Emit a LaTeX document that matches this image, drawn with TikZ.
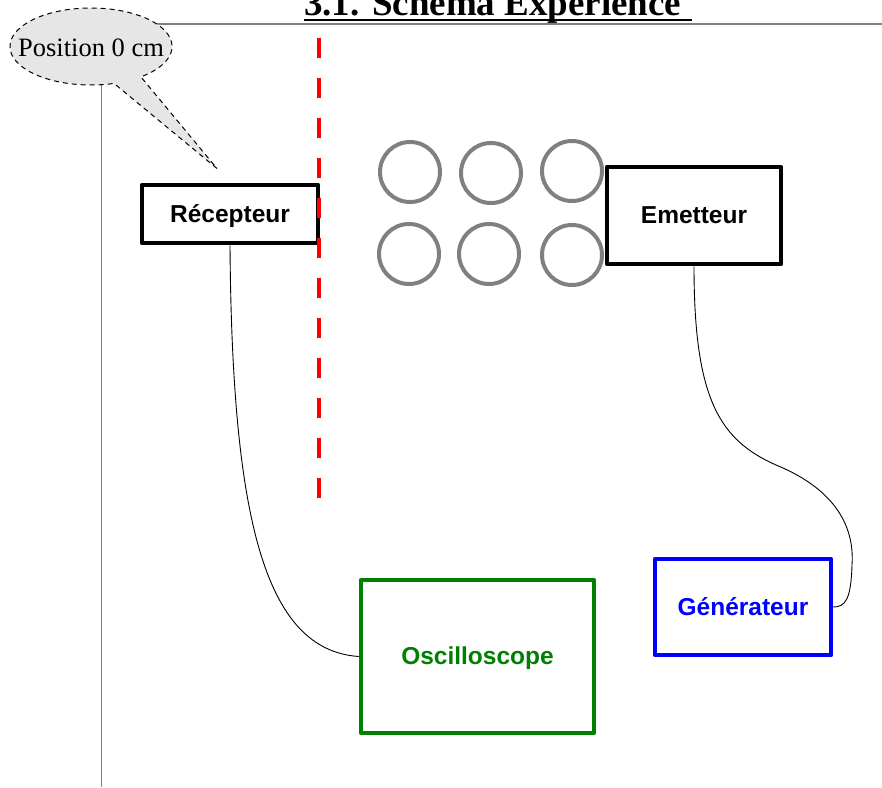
\documentclass[tikz,border=0pt]{standalone}
\usepackage{fontspec}
\setmainfont{Liberation Serif}
\newfontfamily\arialfont{Liberation Sans}
\definecolor{ringgray}{RGB}{128,128,128}
\definecolor{axisgray}{RGB}{128,128,128}
\definecolor{callgray}{RGB}{230,230,230}
\definecolor{oscgreen}{RGB}{0,128,0}
\definecolor{genblue}{RGB}{0,0,255}
\definecolor{dashred}{RGB}{255,0,0}
\begin{document}
\begin{tikzpicture}[x=1pt,y=-1pt,
  box/.style={draw, line width=4.5pt, rectangle, inner sep=0pt, fill=white,
    font=\arialfont\bfseries\fontsize{24.5}{29}\selectfont,
    text height=16.5pt, text depth=0pt, line join=round},
  cable/.style={draw=black, line width=0.9pt},
  ring/.style={draw=ringgray, line width=4pt, circle, minimum size=60pt, inner sep=0pt},
  axisline/.style={draw=axisgray, line width=1.2pt},
  reddash/.style={draw=dashred, line width=4.5pt, dash pattern=on 20pt off 20pt},
  callout/.style={draw=black, fill=callgray, line width=1pt, dash pattern=on 5pt off 4pt}
]
\useasboundingbox (0,0) rectangle (882,787);

% axis lines
\draw[axisline] (157,24) -- (882,24);
\draw[axisline] (101.5,85) -- (101.5,787);

% title
\node[anchor=base west, inner sep=0pt, font=\bfseries\fontsize{37}{40}\selectfont] (title) at (304,16) {3.1. Schema Experience};
\draw[line width=2pt] ([yshift=-3.5pt]title.base west) -- ++(388,0);

% callout
\path[callout] (217,168.5) -- plot[domain=73.5:412, samples=150, variable=\t] ({91+81*cos(\t)},{46.5+38.5*sin(\t)}) -- cycle;
\node[anchor=base, inner sep=0pt, font=\fontsize{26.5}{30}\selectfont] (pos) at (91,56) {Position 0 cm};

% rings
\node[ring] (c1) at (410,172) {};
\node[ring] (c2) at (491,173) {};
\node[ring] (c3) at (572,171) {};
\node[ring] (c4) at (409,254) {};
\node[ring] (c5) at (489,254) {};
\node[ring] (c6) at (572,255) {};

% boxes
\node[box, minimum width=176pt, minimum height=58pt] (rec) at (230,214) {Récepteur};
\node[box, minimum width=174pt, minimum height=97pt] (emi) at (694,215.5) {Emetteur};
\node[box, draw=oscgreen, text=oscgreen, minimum width=233pt, minimum height=153pt] (osc) at (477.5,656.5) {Oscilloscope};
\node[box, draw=genblue, text=genblue, minimum width=176pt, minimum height=96pt] (gen) at (743,607) {Générateur};

% red dashed line
\draw[reddash] (319,38) -- (319,498);

% cables
\draw[cable] (rec.south) .. controls (232,520) and (265,650) .. (osc.west);
\draw[cable] (emi.south) .. controls (694,400) and (720,440) .. (776,465)
  .. controls (830,487) and (855,522) .. (852,565)
  .. controls (851,600) and (845,607) .. (gen.east);
\end{tikzpicture}
\end{document}
